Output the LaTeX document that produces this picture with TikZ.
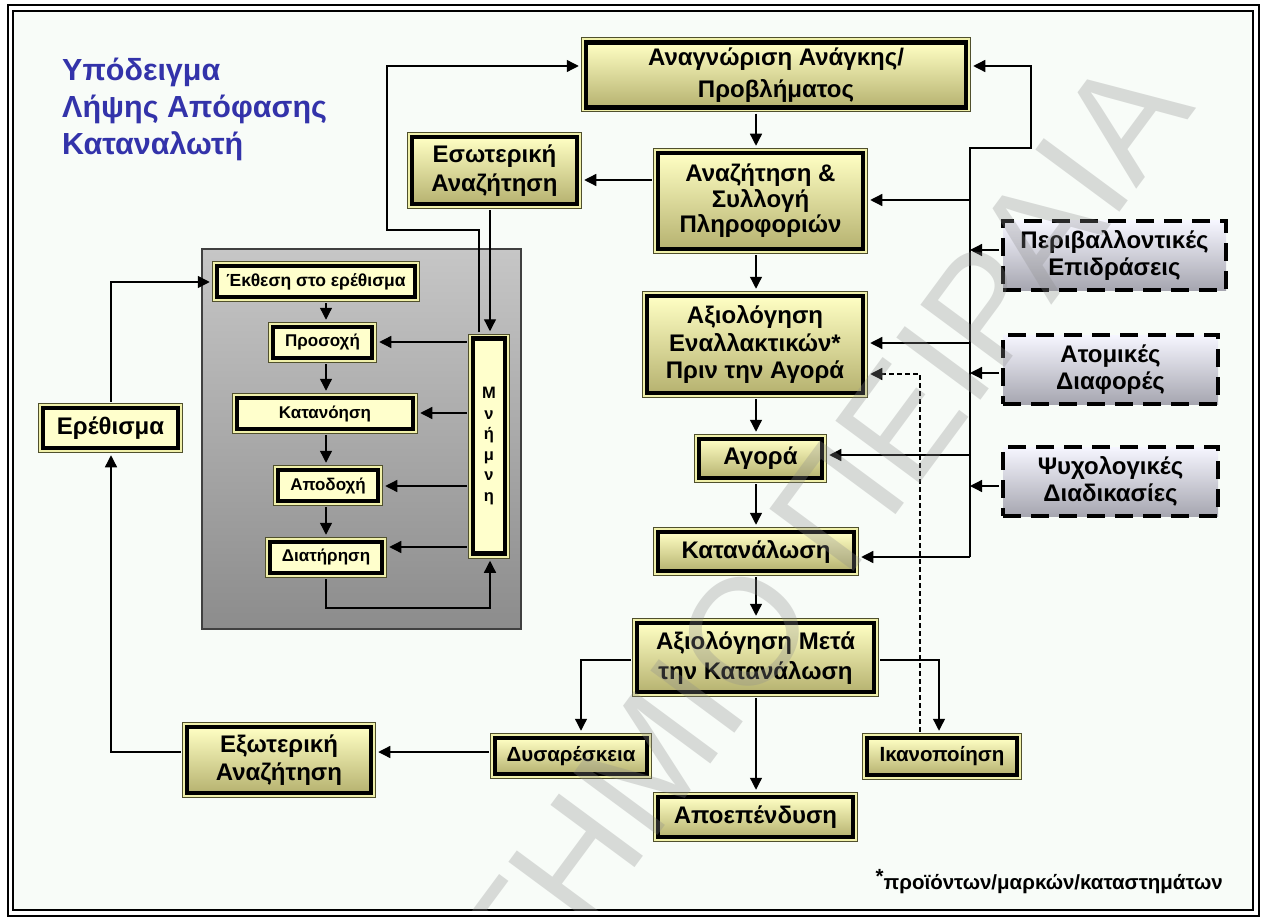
\documentclass[tikz,border=0pt]{standalone}
\usepackage{fontspec}
\setmainfont{Liberation Sans}
\usetikzlibrary{arrows.meta,calc}
\definecolor{bgc}{RGB}{248,252,248}
\definecolor{titleblue}{RGB}{51,51,170}
\definecolor{yTop}{RGB}{255,255,196}
\definecolor{yBot}{RGB}{182,178,112}
\definecolor{cream}{RGB}{255,255,204}
\definecolor{edgeD}{RGB}{80,80,45}
\definecolor{edgeP}{RGB}{240,240,170}
\definecolor{pTop}{RGB}{198,198,198}
\definecolor{pBot}{RGB}{140,140,140}
\definecolor{dTop}{RGB}{246,246,255}
\definecolor{dBot}{RGB}{166,166,176}
\begin{document}
\begin{tikzpicture}[x=1pt,y=-1pt,
  conn/.style={line width=1.3pt,-{Triangle[length=12pt,width=12pt]},shorten >=5pt,shorten <=4pt},
  ybase/.style={draw=black,line width=4.5pt,inner sep=0pt,align=center,
    preaction={draw=edgeD,line width=10pt},preaction={draw=edgeP,line width=8pt}},
  ygrad/.style={ybase,top color=yTop,bottom color=yBot,font=\bfseries\fontsize{24}{29}\selectfont},
  ycream/.style={ybase,fill=cream,font=\bfseries\fontsize{17}{20}\selectfont},
  dbox/.style={draw=black,line width=4pt,dash pattern=on 18pt off 10pt,top color=dTop,bottom color=dBot,
    align=center,inner sep=0pt,font=\bfseries\fontsize{24}{27}\selectfont},
  ttl/.style={anchor=base west,text=titleblue,font=\bfseries\fontsize{30.5}{36}\selectfont,inner sep=0pt}
]
\useasboundingbox (0,0) rectangle (1264,920);
\fill[white] (0,0) rectangle (1264,920);
\fill[bgc] (13,11) rectangle (1253,910);
\draw[line width=2pt] (8,5) rectangle (1259,916);
\draw[line width=2pt] (13,11) rectangle (1253,910);

% title
\node[ttl] (t1) at (62,81) {Υπόδειγμα};
\node[ttl] (t2) at (62,118) {Λήψης Απόφασης};
\node[ttl] (t3) at (62,155) {Καταναλωτή};

% grey panel
\node[draw=black!75,line width=1.5pt,top color=pTop,bottom color=pBot,minimum width=319pt,minimum height=380pt,inner sep=0pt] (pn) at (361.5,439) {};

% main boxes
\node[ygrad,minimum width=380pt,minimum height=65pt] (A1) at (776,75) {Αναγνώριση Ανάγκης/\\[3pt]Προβλήματος};
\node[ygrad,minimum width=205pt,minimum height=96pt,font=\bfseries\fontsize{24}{25.5}\selectfont] (A2) at (760.5,201) {Αναζήτηση \&\\Συλλογή\\Πληροφοριών};
\node[ygrad,minimum width=165pt,minimum height=67pt,font=\bfseries\fontsize{24}{29}\selectfont] (ESW) at (494.5,170.5) {Εσωτερική\\Αναζήτηση};
\node[ygrad,minimum width=216pt,minimum height=97pt,font=\bfseries\fontsize{24}{27.5}\selectfont] (A3) at (755,344.5) {Αξιολόγηση\\Εναλλακτικών*\\Πριν την Αγορά};
\node[ygrad,minimum width=123pt,minimum height=39pt] (A4) at (760.5,458.5) {Αγορά};
\node[ygrad,minimum width=196pt,minimum height=39pt] (A5) at (756,551.5) {Κατανάλωση};
\node[ygrad,minimum width=237pt,minimum height=69pt,font=\bfseries\fontsize{24}{30}\selectfont] (A6) at (755.5,657.5) {Αξιολόγηση Μετά\\την Κατανάλωση};
\node[ygrad,minimum width=150pt,minimum height=37pt,font=\bfseries\fontsize{20.5}{22}\selectfont] (IK) at (942,756.5) {Ικανοποίηση};
\node[ygrad,minimum width=195pt,minimum height=40pt] (AP) at (755.5,817) {Αποεπένδυση};
\node[ygrad,minimum width=152pt,minimum height=36pt,font=\bfseries\fontsize{20.5}{22}\selectfont] (DY) at (571,756) {Δυσαρέσκεια};
\node[ygrad,minimum width=184pt,minimum height=66pt,font=\bfseries\fontsize{24}{28}\selectfont] (EX) at (279,760) {Εξωτερική\\Αναζήτηση};
\node[ybase,fill=cream,font=\bfseries\fontsize{24}{28}\selectfont,minimum width=135pt,minimum height=40pt] (ER) at (110.5,428) {Ερέθισμα};

% panel boxes
\node[ycream,minimum width=198pt,minimum height=31pt,font=\bfseries\fontsize{17.5}{19}\selectfont] (EK) at (316,281.5) {Έκθεση στο ερέθισμα};
\node[ycream,minimum width=99pt,minimum height=31pt] (PR) at (322.5,342.5) {Προσοχή};
\node[ycream,minimum width=176pt,minimum height=31pt] (KT) at (325,413.5) {Κατανόηση};
\node[ycream,minimum width=100pt,minimum height=31pt] (AD) at (328,485.5) {Αποδοχή};
\node[ycream,minimum width=112pt,minimum height=31pt] (DT) at (326,557.5) {Διατήρηση};
\node[ycream,minimum width=32pt,minimum height=215pt,font=\bfseries\fontsize{16.5}{20.5}\selectfont] (MN) at (489,446) {Μ\\ν\\ή\\μ\\ν\\η};

% dashed boxes
\node[dbox,minimum width=223pt,minimum height=69pt] (PE) at (1114.5,255.5) {Περιβαλλοντικές\\Επιδράσεις};
\node[dbox,minimum width=215pt,minimum height=69pt] (AT) at (1110.5,369.5) {Ατομικές\\Διαφορές};
\node[dbox,minimum width=215pt,minimum height=69pt] (PS) at (1110.5,481.5) {Ψυχολογικές\\Διαδικασίες};

% footnote
\node[anchor=base east,inner sep=0pt,font=\bfseries\fontsize{20.5}{20.5}\selectfont] (fn) at (1223,889) {\raisebox{6pt}{*}προϊόντων/μαρκών/καταστημάτων};

% coordinates
\coordinate (cx) at (756,0);
\coordinate (busB) at (970,557);
\coordinate (busT) at (970,148);
\coordinate (busR) at (1031,148);
\coordinate (a1in) at (1031,66);
\coordinate (b2) at (970,200);
\coordinate (b3) at (970,343);
\coordinate (b4) at (970,455);
\coordinate (p1) at (970,250);
\coordinate (p2) at (970,373);
\coordinate (p3) at (970,486);
\coordinate (e1) at (653,180);
\coordinate (m1) at (490,0);
\coordinate (m2) at (479,230);
\coordinate (m3) at (387,230);
\coordinate (m4) at (387,66);
\coordinate (px) at (326,0);
\coordinate (q1) at (0,342);
\coordinate (q2) at (0,413);
\coordinate (q3) at (0,486);
\coordinate (q4) at (0,547);
\coordinate (r1) at (326,608);
\coordinate (r2) at (490,608);
\coordinate (s1) at (111,282);
\coordinate (s2) at (111,752);
\coordinate (s3) at (0,752);
\coordinate (t1c) at (581,660);
\coordinate (t2c) at (939,660);
\coordinate (u1) at (920,374);

% main chain
\draw[conn] (A1.south -| cx) -- (A2.north -| cx);
\draw[conn] (A2.south -| cx) -- (A3.north -| cx);
\draw[conn] (A3.south -| cx) -- (A4.north -| cx);
\draw[conn] (A4.south -| cx) -- (A5.north -| cx);
\draw[conn] (A5.south -| cx) -- (A6.north -| cx);
\draw[conn] (A6.south -| cx) -- (AP.north -| cx);

% bus
\draw[conn,shorten <=0pt] (busB) -- (busT) -- (busR) -- (a1in) -- (a1in -| A1.east);
\draw[conn,shorten <=0pt] (b2) -- (b2 -| A2.east);
\draw[conn,shorten <=0pt] (b3) -- (b3 -| A3.east);
\draw[conn,shorten <=0pt] (b4) -- (b4 -| A4.east);
\draw[conn,shorten <=0pt] (busB) -- (busB -| A5.east);
\draw[conn,shorten >=0pt,shorten <=2pt] (p1 -| PE.west) -- (p1);
\draw[conn,shorten >=0pt,shorten <=2pt] (p2 -| AT.west) -- (p2);
\draw[conn,shorten >=0pt,shorten <=2pt] (p3 -| PS.west) -- (p3);

% search / memory
\draw[conn] (e1 -| A2.west) -- (e1 -| ESW.east);
\draw[conn] (ESW.south -| m1) -- (MN.north -| m1);
\draw[conn] (MN.north -| m2) -- (m2) -- (m3) -- (m4) -- (m4 -| A1.west);

% panel chain
\draw[conn] (EK.south -| px) -- (PR.north -| px);
\draw[conn] (PR.south -| px) -- (KT.north -| px);
\draw[conn] (KT.south -| px) -- (AD.north -| px);
\draw[conn] (AD.south -| px) -- (DT.north -| px);
\draw[conn] (q1 -| MN.west) -- (q1 -| PR.east);
\draw[conn] (q2 -| MN.west) -- (q2 -| KT.east);
\draw[conn] (q3 -| MN.west) -- (q3 -| AD.east);
\draw[conn] (q4 -| MN.west) -- (q4 -| DT.east);
\draw[conn] (DT.south -| r1) -- (r1) -- (r2) -- (MN.south -| r2);

% stimulus loop
\draw[conn] (ER.north -| s1) -- (s1) -- (s1 -| EK.west);
\draw[conn] (s2 -| EX.west) -- (s2) -- (ER.south -| s2);
\draw[conn] (s3 -| DY.west) -- (s3 -| EX.east);

% post evaluation
\draw[conn] (t1c -| A6.west) -- (t1c) -- (DY.north -| t1c);
\draw[conn] (t2c -| A6.east) -- (t2c) -- (IK.north -| t2c);
\draw[conn,dash pattern=on 5pt off 3pt] (IK.north -| u1) -- (u1) -- (u1 -| A3.east);

% watermark
\begin{scope}
\clip (13,11) rectangle (1253,910);
\node[rotate=53.5,anchor=base east,inner sep=0pt,text=black!45,opacity=0.3,font=\fontsize{152}{152}\selectfont] (wm) at (1197,108) {ΠΑΝΕΠΙΣΤΗΜΙΟ ΠΕΙΡΑΙΑ};
\end{scope}
\end{tikzpicture}
\end{document}
